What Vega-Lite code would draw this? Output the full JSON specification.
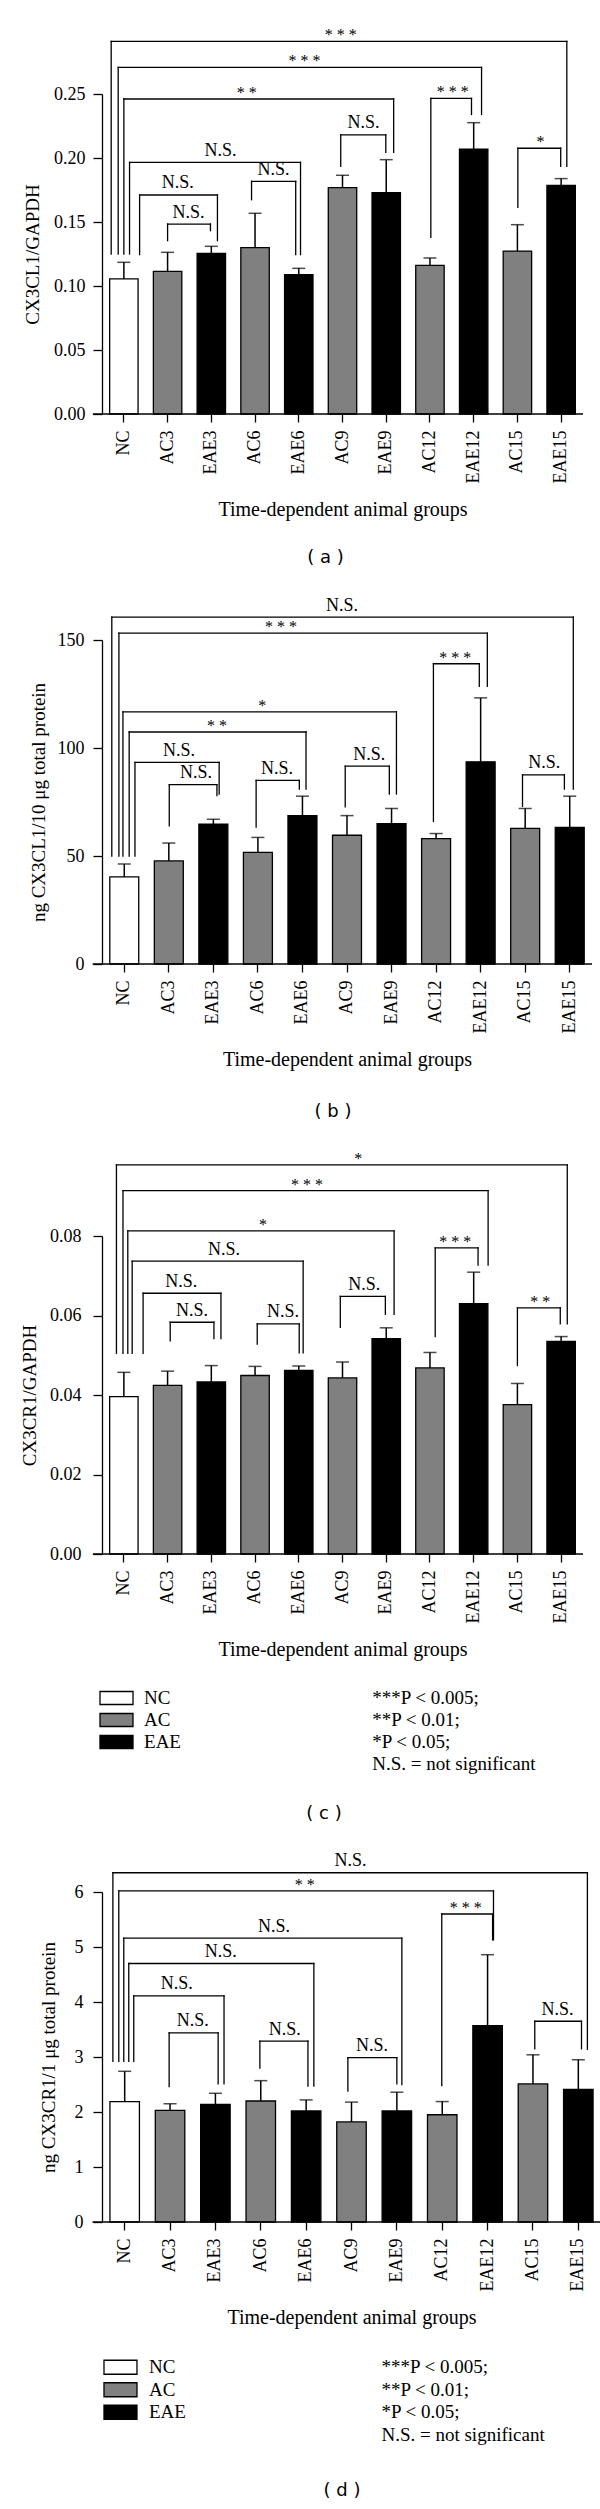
{
  "$schema": "https://vega.github.io/schema/vega-lite/v6.json",
  "background": "white",
  "padding": {"left": 20, "top": 27, "right": 5, "bottom": 0},
  "config": {
    "font": "Liberation Serif",
    "view": {"stroke": null},
    "axis": {"labelFont": "Liberation Serif", "titleFont": "Liberation Serif", "labelFontSize": 18, "titleFontSize": 19, "titleFontWeight": "normal", "labelColor": "black", "titleColor": "black", "domainColor": "black", "tickColor": "black", "domainWidth": 1.3, "tickWidth": 1.3, "grid": false},
    "title": {"font": "DejaVu Sans", "fontSize": 18, "fontWeight": "normal", "color": "black", "orient": "bottom", "anchor": "middle"},
    "text": {"font": "Liberation Serif", "color": "black"}
  },
  "columns": 1,
  "align": "none",
  "spacing": 29,
  "concat": [
    {
      "width": 481, "height": 320,
      "title": {"text": "( a )", "orient": "bottom", "offset": 29, "dx": -17},
      "layer": [
        {
          "data": {"values": [
            {"group": "NC", "type": "NC", "mean": 0.1055, "upper": 0.1185},
            {"group": "AC3", "type": "AC", "mean": 0.1115, "upper": 0.1263},
            {"group": "EAE3", "type": "EAE", "mean": 0.1255, "upper": 0.131},
            {"group": "AC6", "type": "AC", "mean": 0.130, "upper": 0.1568},
            {"group": "EAE6", "type": "EAE", "mean": 0.1089, "upper": 0.1138},
            {"group": "AC9", "type": "AC", "mean": 0.1768, "upper": 0.1865},
            {"group": "EAE9", "type": "EAE", "mean": 0.1729, "upper": 0.1987},
            {"group": "AC12", "type": "AC", "mean": 0.1161, "upper": 0.1219},
            {"group": "EAE12", "type": "EAE", "mean": 0.207, "upper": 0.2276},
            {"group": "AC15", "type": "AC", "mean": 0.1273, "upper": 0.1479},
            {"group": "EAE15", "type": "EAE", "mean": 0.1786, "upper": 0.1839}
          ]},
          "layer": [
            {"mark": {"type": "bar", "stroke": "black", "strokeWidth": 1.3},
             "encoding": {
               "x": {"field": "group", "type": "nominal", "sort": null, "scale": {"paddingInner": 0.35, "paddingOuter": 0.175},
                     "axis": {"title": "Time-dependent animal groups", "titleFontSize": 20, "titlePadding": 17, "labelAngle": 270, "labelPadding": 8, "tickSize": 8, "domain": false}},
               "y": {"field": "mean", "type": "quantitative", "scale": {"domain": [0, 0.25], "nice": false},
                     "axis": {"title": "CX3CL1/GAPDH", "titleFontSize": 19, "values": [0, 0.05, 0.1, 0.15, 0.2, 0.25], "format": ".2f", "tickSize": 9, "labelPadding": 8, "titlePadding": 11.5}},
               "fill": {"field": "type", "type": "nominal", "scale": {"domain": ["NC", "AC", "EAE"], "range": ["#ffffff", "#808080", "#000000"]}, "legend": null}
             }},
            {"mark": {"type": "rule", "color": "black", "strokeWidth": 1.5},
             "encoding": {"x": {"field": "group", "type": "nominal", "sort": null}, "y": {"field": "mean", "type": "quantitative"}, "y2": {"field": "upper"}}},
            {"mark": {"type": "tick", "color": "black", "thickness": 1.5, "size": 13, "orient": "horizontal"},
             "encoding": {"x": {"field": "group", "type": "nominal", "sort": null}, "y": {"field": "upper", "type": "quantitative"}}}
          ]
        },
        {
          "data": {"values": [
            {"l": -0.29, "r": 10.13, "h": 0.2911, "lb": 0.125, "rb": 0.1935, "tx": 4.96, "lab": "* * *"},
            {"l": -0.13, "r": 8.18, "h": 0.2708, "lb": 0.125, "rb": 0.234, "tx": 4.13, "lab": "* * *"},
            {"l": 0.0, "r": 6.17, "h": 0.2461, "lb": 0.125, "rb": 0.2044, "tx": 2.81, "lab": "* *"},
            {"l": 0.13, "r": 4.04, "h": 0.1966, "lb": 0.125, "rb": 0.1245, "tx": 2.21, "lab": "N.S."},
            {"l": 0.36, "r": 2.14, "h": 0.1711, "lb": 0.1245, "rb": 0.1354, "tx": 1.23, "lab": "N.S."},
            {"l": 1.0, "r": 1.98, "h": 0.1484, "lb": 0.1354, "rb": 0.1432, "tx": 1.48, "lab": "N.S."},
            {"l": 2.92, "r": 3.93, "h": 0.1818, "lb": 0.1674, "rb": 0.1245, "tx": 3.42, "lab": "N.S."},
            {"l": 4.96, "r": 5.99, "h": 0.218, "lb": 0.1935, "rb": 0.2044, "tx": 5.48, "lab": "N.S."},
            {"l": 7.02, "r": 7.95, "h": 0.2466, "lb": 0.138, "rb": 0.234, "tx": 7.52, "lab": "* * *"},
            {"l": 9.01, "r": 9.99, "h": 0.2076, "lb": 0.1615, "rb": 0.1935, "tx": 9.53, "lab": "*"}
          ]},
          "layer": [
            {"mark": {"type": "rule", "color": "black", "strokeWidth": 1.3, "strokeCap": "square"},
             "encoding": {"x": {"field": "l", "type": "quantitative", "scale": {"domain": [-0.5, 10.5], "nice": false, "zero": false}, "axis": null},
                          "y": {"field": "lb", "type": "quantitative"}, "y2": {"field": "h"}}},
            {"mark": {"type": "rule", "color": "black", "strokeWidth": 1.3, "strokeCap": "square"},
             "encoding": {"x": {"field": "l", "type": "quantitative", "scale": {"domain": [-0.5, 10.5], "nice": false, "zero": false}, "axis": null}, "x2": {"field": "r"},
                          "y": {"field": "h", "type": "quantitative"}}},
            {"mark": {"type": "rule", "color": "black", "strokeWidth": 1.3, "strokeCap": "square"},
             "encoding": {"x": {"field": "r", "type": "quantitative", "scale": {"domain": [-0.5, 10.5], "nice": false, "zero": false}, "axis": null},
                          "y": {"field": "rb", "type": "quantitative"}, "y2": {"field": "h"}}},
            {"transform": [{"filter": "datum.lab === 'N.S.'"}],
             "mark": {"type": "text", "fontSize": 18, "dy": -6.5, "baseline": "alphabetic", "align": "center"},
             "encoding": {"x": {"field": "tx", "type": "quantitative", "scale": {"domain": [-0.5, 10.5], "nice": false, "zero": false}, "axis": null},
                          "y": {"field": "h", "type": "quantitative"}, "text": {"field": "lab"}}},
            {"transform": [{"filter": "datum.lab !== 'N.S.'"}],
             "mark": {"type": "text", "fontSize": 16, "dy": -1, "baseline": "alphabetic", "align": "center"},
             "encoding": {"x": {"field": "tx", "type": "quantitative", "scale": {"domain": [-0.5, 10.5], "nice": false, "zero": false}, "axis": null},
                          "y": {"field": "h", "type": "quantitative"}, "text": {"field": "lab"}}},
            {"data": {"values": [{}]},
             "mark": {"type": "rule", "color": "black", "strokeWidth": 1.3},
             "encoding": {"x": {"datum": -0.71, "type": "quantitative", "scale": {"domain": [-0.5, 10.5], "nice": false, "zero": false}, "axis": null}, "x2": {"datum": 10.5},
                          "y": {"datum": 0, "type": "quantitative"}}}
          ]
        }
      ],
      "resolve": {"scale": {"x": "independent"}}
    },
    {
      "width": 490, "height": 324,
      "title": {"text": "( b )", "orient": "bottom", "offset": 33, "dx": -14},
      "layer": [
        {
          "data": {"values": [
            {"group": "NC", "type": "NC", "mean": 40.3, "upper": 46.3},
            {"group": "AC3", "type": "AC", "mean": 47.7, "upper": 56.0},
            {"group": "EAE3", "type": "EAE", "mean": 64.8, "upper": 67.0},
            {"group": "AC6", "type": "AC", "mean": 51.7, "upper": 58.6},
            {"group": "EAE6", "type": "EAE", "mean": 68.7, "upper": 77.7},
            {"group": "AC9", "type": "AC", "mean": 59.6, "upper": 68.7},
            {"group": "EAE9", "type": "EAE", "mean": 65.0, "upper": 72.0},
            {"group": "AC12", "type": "AC", "mean": 58.0, "upper": 60.4},
            {"group": "EAE12", "type": "EAE", "mean": 93.6, "upper": 123.2},
            {"group": "AC15", "type": "AC", "mean": 62.8, "upper": 72.0},
            {"group": "EAE15", "type": "EAE", "mean": 63.2, "upper": 77.7}
          ]},
          "layer": [
            {"mark": {"type": "bar", "stroke": "black", "strokeWidth": 1.3},
             "encoding": {
               "x": {"field": "group", "type": "nominal", "sort": null, "scale": {"paddingInner": 0.35, "paddingOuter": 0.175},
                     "axis": {"title": "Time-dependent animal groups", "titleFontSize": 20, "titlePadding": 17, "labelAngle": 270, "labelPadding": 8, "tickSize": 8, "domain": false}},
               "y": {"field": "mean", "type": "quantitative", "scale": {"domain": [0, 150], "nice": false},
                     "axis": {"title": "ng CX3CL1/10 μg total protein", "titleFontSize": 19, "values": [0, 50, 100, 150], "format": "d", "tickSize": 9, "labelPadding": 9, "titlePadding": 9}},
               "fill": {"field": "type", "type": "nominal", "scale": {"domain": ["NC", "AC", "EAE"], "range": ["#ffffff", "#808080", "#000000"]}, "legend": null}
             }},
            {"mark": {"type": "rule", "color": "black", "strokeWidth": 1.5},
             "encoding": {"x": {"field": "group", "type": "nominal", "sort": null}, "y": {"field": "mean", "type": "quantitative"}, "y2": {"field": "upper"}}},
            {"mark": {"type": "tick", "color": "black", "thickness": 1.5, "size": 13, "orient": "horizontal"},
             "encoding": {"x": {"field": "group", "type": "nominal", "sort": null}, "y": {"field": "upper", "type": "quantitative"}}}
          ]
        },
        {
          "data": {"values": [
            {"l": -0.28, "r": 10.08, "h": 160.6, "lb": 50, "rb": 81, "tx": 4.89, "lab": "N.S."},
            {"l": -0.12, "r": 8.15, "h": 153.2, "lb": 50, "rb": 128.5, "tx": 3.52, "lab": "* * *"},
            {"l": -0.03, "r": 6.11, "h": 116.7, "lb": 50, "rb": 78.7, "tx": 3.1, "lab": "*"},
            {"l": 0.11, "r": 4.08, "h": 107.4, "lb": 50, "rb": 81, "tx": 2.08, "lab": "* *"},
            {"l": 0.24, "r": 2.13, "h": 93.3, "lb": 50, "rb": 78.7, "tx": 1.23, "lab": "N.S."},
            {"l": 1.01, "r": 2.08, "h": 83, "lb": 64, "rb": 78, "tx": 1.61, "lab": "N.S."},
            {"l": 2.96, "r": 3.93, "h": 85, "lb": 63.4, "rb": 81, "tx": 3.43, "lab": "N.S."},
            {"l": 4.96, "r": 5.95, "h": 91.6, "lb": 72.7, "rb": 78.7, "tx": 5.5, "lab": "N.S."},
            {"l": 6.94, "r": 7.97, "h": 139, "lb": 66, "rb": 128.5, "tx": 7.43, "lab": "* * *"},
            {"l": 8.94, "r": 9.88, "h": 87.6, "lb": 73, "rb": 81, "tx": 9.43, "lab": "N.S."}
          ]},
          "layer": [
            {"mark": {"type": "rule", "color": "black", "strokeWidth": 1.3, "strokeCap": "square"},
             "encoding": {"x": {"field": "l", "type": "quantitative", "scale": {"domain": [-0.5, 10.5], "nice": false, "zero": false}, "axis": null},
                          "y": {"field": "lb", "type": "quantitative"}, "y2": {"field": "h"}}},
            {"mark": {"type": "rule", "color": "black", "strokeWidth": 1.3, "strokeCap": "square"},
             "encoding": {"x": {"field": "l", "type": "quantitative", "scale": {"domain": [-0.5, 10.5], "nice": false, "zero": false}, "axis": null}, "x2": {"field": "r"},
                          "y": {"field": "h", "type": "quantitative"}}},
            {"mark": {"type": "rule", "color": "black", "strokeWidth": 1.3, "strokeCap": "square"},
             "encoding": {"x": {"field": "r", "type": "quantitative", "scale": {"domain": [-0.5, 10.5], "nice": false, "zero": false}, "axis": null},
                          "y": {"field": "rb", "type": "quantitative"}, "y2": {"field": "h"}}},
            {"transform": [{"filter": "datum.lab === 'N.S.'"}],
             "mark": {"type": "text", "fontSize": 18, "dy": -6.5, "baseline": "alphabetic", "align": "center"},
             "encoding": {"x": {"field": "tx", "type": "quantitative", "scale": {"domain": [-0.5, 10.5], "nice": false, "zero": false}, "axis": null},
                          "y": {"field": "h", "type": "quantitative"}, "text": {"field": "lab"}}},
            {"transform": [{"filter": "datum.lab !== 'N.S.'"}],
             "mark": {"type": "text", "fontSize": 16, "dy": -1, "baseline": "alphabetic", "align": "center"},
             "encoding": {"x": {"field": "tx", "type": "quantitative", "scale": {"domain": [-0.5, 10.5], "nice": false, "zero": false}, "axis": null},
                          "y": {"field": "h", "type": "quantitative"}, "text": {"field": "lab"}}},
            {"data": {"values": [{}]},
             "mark": {"type": "rule", "color": "black", "strokeWidth": 1.3},
             "encoding": {"x": {"datum": -0.71, "type": "quantitative", "scale": {"domain": [-0.5, 10.5], "nice": false, "zero": false}, "axis": null}, "x2": {"datum": 10.5},
                          "y": {"datum": 0, "type": "quantitative"}}}
          ]
        }
      ],
      "resolve": {"scale": {"x": "independent"}}
    },
    {
      "spacing": 22,
      "vconcat": [
        {
          "width": 481, "height": 318,
          "layer": [
            {
              "data": {"values": [
                {"group": "NC", "type": "NC", "mean": 0.0396, "upper": 0.0457},
                {"group": "AC3", "type": "AC", "mean": 0.0424, "upper": 0.046},
                {"group": "EAE3", "type": "EAE", "mean": 0.0433, "upper": 0.0474},
                {"group": "AC6", "type": "AC", "mean": 0.0449, "upper": 0.0472},
                {"group": "EAE6", "type": "EAE", "mean": 0.0462, "upper": 0.0473},
                {"group": "AC9", "type": "AC", "mean": 0.0443, "upper": 0.0483},
                {"group": "EAE9", "type": "EAE", "mean": 0.0542, "upper": 0.0569},
                {"group": "AC12", "type": "AC", "mean": 0.0468, "upper": 0.0507},
                {"group": "EAE12", "type": "EAE", "mean": 0.063, "upper": 0.0709},
                {"group": "AC15", "type": "AC", "mean": 0.0376, "upper": 0.0429},
                {"group": "EAE15", "type": "EAE", "mean": 0.0535, "upper": 0.0547}
              ]},
              "layer": [
                {"mark": {"type": "bar", "stroke": "black", "strokeWidth": 1.3},
                 "encoding": {
                   "x": {"field": "group", "type": "nominal", "sort": null, "scale": {"paddingInner": 0.35, "paddingOuter": 0.175},
                         "axis": {"title": "Time-dependent animal groups", "titleFontSize": 20, "titlePadding": 17, "labelAngle": 270, "labelPadding": 8, "tickSize": 8, "domain": false}},
                   "y": {"field": "mean", "type": "quantitative", "scale": {"domain": [0, 0.08], "nice": false},
                         "axis": {"title": "CX3CR1/GAPDH", "titleFontSize": 19, "values": [0, 0.02, 0.04, 0.06, 0.08], "format": ".2f", "tickSize": 9, "labelPadding": 12, "titlePadding": 10.5}},
                   "fill": {"field": "type", "type": "nominal", "scale": {"domain": ["NC", "AC", "EAE"], "range": ["#ffffff", "#808080", "#000000"]}, "legend": null}
                 }},
                {"mark": {"type": "rule", "color": "black", "strokeWidth": 1.5},
                 "encoding": {"x": {"field": "group", "type": "nominal", "sort": null}, "y": {"field": "mean", "type": "quantitative"}, "y2": {"field": "upper"}}},
                {"mark": {"type": "tick", "color": "black", "thickness": 1.5, "size": 13, "orient": "horizontal"},
                 "encoding": {"x": {"field": "group", "type": "nominal", "sort": null}, "y": {"field": "upper", "type": "quantitative"}}}
              ]
            },
            {
              "data": {"values": [
                {"l": -0.17, "r": 10.14, "h": 0.0979, "lb": 0.0505, "rb": 0.0579, "tx": 5.36, "lab": "*"},
                {"l": -0.02, "r": 8.33, "h": 0.0914, "lb": 0.0505, "rb": 0.0727, "tx": 4.19, "lab": "* * *"},
                {"l": 0.09, "r": 6.18, "h": 0.0813, "lb": 0.0505, "rb": 0.0603, "tx": 3.18, "lab": "*"},
                {"l": 0.19, "r": 4.1, "h": 0.0737, "lb": 0.0505, "rb": 0.0506, "tx": 2.29, "lab": "N.S."},
                {"l": 0.44, "r": 2.22, "h": 0.0656, "lb": 0.0505, "rb": 0.0542, "tx": 1.31, "lab": "N.S."},
                {"l": 1.06, "r": 2.06, "h": 0.0583, "lb": 0.0536, "rb": 0.0542, "tx": 1.56, "lab": "N.S."},
                {"l": 3.05, "r": 4.01, "h": 0.0579, "lb": 0.0528, "rb": 0.0506, "tx": 3.64, "lab": "N.S."},
                {"l": 4.95, "r": 5.98, "h": 0.0648, "lb": 0.057, "rb": 0.0603, "tx": 5.5, "lab": "N.S."},
                {"l": 7.12, "r": 8.1, "h": 0.077, "lb": 0.0547, "rb": 0.0727, "tx": 7.58, "lab": "* * *"},
                {"l": 9.0, "r": 9.98, "h": 0.0619, "lb": 0.0474, "rb": 0.0579, "tx": 9.52, "lab": "* *"}
              ]},
              "layer": [
                {"mark": {"type": "rule", "color": "black", "strokeWidth": 1.3, "strokeCap": "square"},
                 "encoding": {"x": {"field": "l", "type": "quantitative", "scale": {"domain": [-0.5, 10.5], "nice": false, "zero": false}, "axis": null},
                              "y": {"field": "lb", "type": "quantitative"}, "y2": {"field": "h"}}},
                {"mark": {"type": "rule", "color": "black", "strokeWidth": 1.3, "strokeCap": "square"},
                 "encoding": {"x": {"field": "l", "type": "quantitative", "scale": {"domain": [-0.5, 10.5], "nice": false, "zero": false}, "axis": null}, "x2": {"field": "r"},
                              "y": {"field": "h", "type": "quantitative"}}},
                {"mark": {"type": "rule", "color": "black", "strokeWidth": 1.3, "strokeCap": "square"},
                 "encoding": {"x": {"field": "r", "type": "quantitative", "scale": {"domain": [-0.5, 10.5], "nice": false, "zero": false}, "axis": null},
                              "y": {"field": "rb", "type": "quantitative"}, "y2": {"field": "h"}}},
                {"transform": [{"filter": "datum.lab === 'N.S.'"}],
                 "mark": {"type": "text", "fontSize": 18, "dy": -6.5, "baseline": "alphabetic", "align": "center"},
                 "encoding": {"x": {"field": "tx", "type": "quantitative", "scale": {"domain": [-0.5, 10.5], "nice": false, "zero": false}, "axis": null},
                              "y": {"field": "h", "type": "quantitative"}, "text": {"field": "lab"}}},
                {"transform": [{"filter": "datum.lab !== 'N.S.'"}],
                 "mark": {"type": "text", "fontSize": 16, "dy": -1, "baseline": "alphabetic", "align": "center"},
                 "encoding": {"x": {"field": "tx", "type": "quantitative", "scale": {"domain": [-0.5, 10.5], "nice": false, "zero": false}, "axis": null},
                              "y": {"field": "h", "type": "quantitative"}, "text": {"field": "lab"}}},
                {"data": {"values": [{}]},
                 "mark": {"type": "rule", "color": "black", "strokeWidth": 1.3},
                 "encoding": {"x": {"datum": -0.71, "type": "quantitative", "scale": {"domain": [-0.5, 10.5], "nice": false, "zero": false}, "axis": null}, "x2": {"datum": 10.5},
                              "y": {"datum": 0, "type": "quantitative"}}}
              ]
            }
          ],
          "resolve": {"scale": {"x": "independent"}}
        },
        {
          "width": 481, "height": 98,
          "title": {"text": "( c )", "orient": "bottom", "offset": 25, "dx": -18.5},
          "layer": [
            {
              "data": {"values": [{"label": "NC", "row": 0}, {"label": "AC", "row": 1}, {"label": "EAE", "row": 2}]},
              "layer": [
                {"mark": {"type": "bar", "orient": "horizontal", "height": 13, "stroke": "black", "strokeWidth": 1.3},
                 "encoding": {
                   "x": {"datum": -0.546, "type": "quantitative", "scale": {"domain": [-0.5, 10.5], "nice": false, "zero": false}, "axis": null},
                   "x2": {"datum": 0.209},
                   "y": {"field": "row", "type": "quantitative", "scale": {"domain": [-0.5, 3.5], "reverse": true, "nice": false, "zero": false}, "axis": null},
                   "fill": {"field": "label", "type": "nominal", "scale": {"domain": ["NC", "AC", "EAE"], "range": ["#ffffff", "#808080", "#000000"]}, "legend": null}
                 }},
                {"mark": {"type": "text", "align": "left", "baseline": "middle", "fontSize": 19},
                 "encoding": {
                   "x": {"datum": 0.461, "type": "quantitative", "scale": {"domain": [-0.5, 10.5], "nice": false, "zero": false}, "axis": null},
                   "y": {"field": "row", "type": "quantitative", "scale": {"domain": [-0.5, 3.5], "reverse": true, "nice": false, "zero": false}, "axis": null},
                   "text": {"field": "label"}
                 }}
              ]
            },
            {
              "data": {"values": [{"note": "***P < 0.005;", "row": 0}, {"note": "**P < 0.01;", "row": 1}, {"note": "*P < 0.05;", "row": 2}, {"note": "N.S. = not significant", "row": 3}]},
              "mark": {"type": "text", "align": "left", "baseline": "middle", "fontSize": 19},
              "encoding": {
                "x": {"datum": 5.68, "type": "quantitative", "scale": {"domain": [-0.5, 10.5], "nice": false, "zero": false}, "axis": null},
                "y": {"field": "row", "type": "quantitative", "scale": {"domain": [-0.5, 3.5], "reverse": true, "nice": false, "zero": false}, "axis": null},
                "text": {"field": "note"}
              }
            }
          ]
        }
      ]
    },
    {
      "spacing": 23,
      "vconcat": [
        {
          "width": 499, "height": 330,
          "layer": [
            {
              "data": {"values": [
                {"group": "NC", "type": "NC", "mean": 2.19, "upper": 2.74},
                {"group": "AC3", "type": "AC", "mean": 2.03, "upper": 2.15},
                {"group": "EAE3", "type": "EAE", "mean": 2.14, "upper": 2.34},
                {"group": "AC6", "type": "AC", "mean": 2.2, "upper": 2.57},
                {"group": "EAE6", "type": "EAE", "mean": 2.02, "upper": 2.22},
                {"group": "AC9", "type": "AC", "mean": 1.82, "upper": 2.18},
                {"group": "EAE9", "type": "EAE", "mean": 2.02, "upper": 2.36},
                {"group": "AC12", "type": "AC", "mean": 1.95, "upper": 2.19},
                {"group": "EAE12", "type": "EAE", "mean": 3.57, "upper": 4.86},
                {"group": "AC15", "type": "AC", "mean": 2.51, "upper": 3.04},
                {"group": "EAE15", "type": "EAE", "mean": 2.41, "upper": 2.95}
              ]},
              "layer": [
                {"mark": {"type": "bar", "stroke": "black", "strokeWidth": 1.3},
                 "encoding": {
                   "x": {"field": "group", "type": "nominal", "sort": null, "scale": {"paddingInner": 0.35, "paddingOuter": 0.175},
                         "axis": {"title": "Time-dependent animal groups", "titleFontSize": 20, "titlePadding": 17, "labelAngle": 270, "labelPadding": 8, "tickSize": 8, "domain": false}},
                   "y": {"field": "mean", "type": "quantitative", "scale": {"domain": [0, 6], "nice": false},
                         "axis": {"title": "ng CX3CR1/1 μg total protein", "titleFontSize": 19, "values": [0, 1, 2, 3, 4, 5, 6], "format": "d", "tickSize": 9, "labelPadding": 10, "titlePadding": 16}},
                   "fill": {"field": "type", "type": "nominal", "scale": {"domain": ["NC", "AC", "EAE"], "range": ["#ffffff", "#808080", "#000000"]}, "legend": null}
                 }},
                {"mark": {"type": "rule", "color": "black", "strokeWidth": 1.5},
                 "encoding": {"x": {"field": "group", "type": "nominal", "sort": null}, "y": {"field": "mean", "type": "quantitative"}, "y2": {"field": "upper"}}},
                {"mark": {"type": "tick", "color": "black", "thickness": 1.5, "size": 13, "orient": "horizontal"},
                 "encoding": {"x": {"field": "group", "type": "nominal", "sort": null}, "y": {"field": "upper", "type": "quantitative"}}}
              ]
            },
            {
              "data": {"values": [
                {"l": -0.26, "r": 10.2, "h": 6.35, "lb": 2.92, "rb": 3.14, "tx": 4.98, "lab": "N.S."},
                {"l": -0.13, "r": 8.13, "h": 6.02, "lb": 2.92, "rb": 5.13, "tx": 3.97, "lab": "* *"},
                {"l": -0.02, "r": 6.11, "h": 5.16, "lb": 2.92, "rb": 2.5, "tx": 3.29, "lab": "N.S."},
                {"l": 0.09, "r": 4.17, "h": 4.7, "lb": 2.92, "rb": 2.47, "tx": 2.12, "lab": "N.S."},
                {"l": 0.2, "r": 2.19, "h": 4.11, "lb": 2.92, "rb": 2.51, "tx": 1.15, "lab": "N.S."},
                {"l": 0.98, "r": 2.06, "h": 3.44, "lb": 2.46, "rb": 2.51, "tx": 1.5, "lab": "N.S."},
                {"l": 2.98, "r": 4.04, "h": 3.29, "lb": 2.8, "rb": 2.47, "tx": 3.53, "lab": "N.S."},
                {"l": 4.92, "r": 6.0, "h": 2.99, "lb": 2.38, "rb": 2.51, "tx": 5.45, "lab": "N.S."},
                {"l": 6.99, "r": 8.11, "h": 5.6, "lb": 2.48, "rb": 5.13, "tx": 7.52, "lab": "* * *"},
                {"l": 9.04, "r": 10.07, "h": 3.65, "lb": 3.15, "rb": 3.15, "tx": 9.54, "lab": "N.S."}
              ]},
              "layer": [
                {"mark": {"type": "rule", "color": "black", "strokeWidth": 1.3, "strokeCap": "square"},
                 "encoding": {"x": {"field": "l", "type": "quantitative", "scale": {"domain": [-0.5, 10.5], "nice": false, "zero": false}, "axis": null},
                              "y": {"field": "lb", "type": "quantitative"}, "y2": {"field": "h"}}},
                {"mark": {"type": "rule", "color": "black", "strokeWidth": 1.3, "strokeCap": "square"},
                 "encoding": {"x": {"field": "l", "type": "quantitative", "scale": {"domain": [-0.5, 10.5], "nice": false, "zero": false}, "axis": null}, "x2": {"field": "r"},
                              "y": {"field": "h", "type": "quantitative"}}},
                {"mark": {"type": "rule", "color": "black", "strokeWidth": 1.3, "strokeCap": "square"},
                 "encoding": {"x": {"field": "r", "type": "quantitative", "scale": {"domain": [-0.5, 10.5], "nice": false, "zero": false}, "axis": null},
                              "y": {"field": "rb", "type": "quantitative"}, "y2": {"field": "h"}}},
                {"transform": [{"filter": "datum.lab === 'N.S.'"}],
                 "mark": {"type": "text", "fontSize": 18, "dy": -6.5, "baseline": "alphabetic", "align": "center"},
                 "encoding": {"x": {"field": "tx", "type": "quantitative", "scale": {"domain": [-0.5, 10.5], "nice": false, "zero": false}, "axis": null},
                              "y": {"field": "h", "type": "quantitative"}, "text": {"field": "lab"}}},
                {"transform": [{"filter": "datum.lab !== 'N.S.'"}],
                 "mark": {"type": "text", "fontSize": 16, "dy": -1, "baseline": "alphabetic", "align": "center"},
                 "encoding": {"x": {"field": "tx", "type": "quantitative", "scale": {"domain": [-0.5, 10.5], "nice": false, "zero": false}, "axis": null},
                              "y": {"field": "h", "type": "quantitative"}, "text": {"field": "lab"}}},
                {"data": {"values": [{}]},
                 "mark": {"type": "rule", "color": "black", "strokeWidth": 1.3},
                 "encoding": {"x": {"datum": -0.71, "type": "quantitative", "scale": {"domain": [-0.5, 10.5], "nice": false, "zero": false}, "axis": null}, "x2": {"datum": 10.5},
                              "y": {"datum": 0, "type": "quantitative"}}}
              ]
            }
          ],
          "resolve": {"scale": {"x": "independent"}}
        },
        {
          "width": 499, "height": 100,
          "title": {"text": "( d )", "orient": "bottom", "offset": 31, "dx": -9.5},
          "layer": [
            {
              "data": {"values": [{"label": "NC", "row": 0}, {"label": "AC", "row": 1}, {"label": "EAE", "row": 2}]},
              "layer": [
                {"mark": {"type": "bar", "orient": "horizontal", "height": 14, "stroke": "black", "strokeWidth": 1.3},
                 "encoding": {
                   "x": {"datum": -0.456, "type": "quantitative", "scale": {"domain": [-0.5, 10.5], "nice": false, "zero": false}, "axis": null},
                   "x2": {"datum": 0.271},
                   "y": {"field": "row", "type": "quantitative", "scale": {"domain": [-0.5, 3.5], "reverse": true, "nice": false, "zero": false}, "axis": null},
                   "fill": {"field": "label", "type": "nominal", "scale": {"domain": ["NC", "AC", "EAE"], "range": ["#ffffff", "#808080", "#000000"]}, "legend": null}
                 }},
                {"mark": {"type": "text", "align": "left", "baseline": "middle", "fontSize": 19},
                 "encoding": {
                   "x": {"datum": 0.535, "type": "quantitative", "scale": {"domain": [-0.5, 10.5], "nice": false, "zero": false}, "axis": null},
                   "y": {"field": "row", "type": "quantitative", "scale": {"domain": [-0.5, 3.5], "reverse": true, "nice": false, "zero": false}, "axis": null},
                   "text": {"field": "label"}
                 }}
              ]
            },
            {
              "data": {"values": [{"note": "***P < 0.005;", "row": 0}, {"note": "**P < 0.01;", "row": 1}, {"note": "*P < 0.05;", "row": 2}, {"note": "N.S. = not significant", "row": 3}]},
              "mark": {"type": "text", "align": "left", "baseline": "middle", "fontSize": 19},
              "encoding": {
                "x": {"datum": 5.66, "type": "quantitative", "scale": {"domain": [-0.5, 10.5], "nice": false, "zero": false}, "axis": null},
                "y": {"field": "row", "type": "quantitative", "scale": {"domain": [-0.5, 3.5], "reverse": true, "nice": false, "zero": false}, "axis": null},
                "text": {"field": "note"}
              }
            }
          ]
        }
      ]
    }
  ]
}
